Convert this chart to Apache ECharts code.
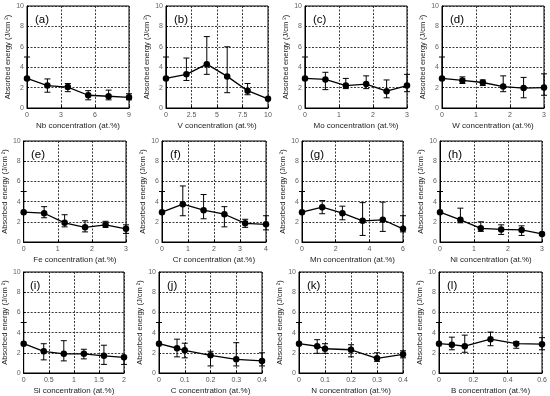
<!DOCTYPE html>
<html>
<head>
<meta charset="utf-8">
<script src="https://cdn.jsdelivr.net/npm/echarts@6/dist/echarts.min.js"></script>
<style>
html,body{margin:0;padding:0;background:#fff;}
#chart{width:550px;height:396px;}
</style>
</head>
<body>
<div id="chart"></div>
<script>
// ---- data (absorbed energy, J/cm^2) ----
const nbConc = [0, 1.8, 3.6, 5.4, 7.2, 9];
const nbEnergy = [2.9, 2.2, 2.05, 1.25, 1.15, 1.05];
const nbErrLo = [2.9, 1.55, 1.6, 0.8, 0.8, 0.8];
const nbErrHi = [5.0, 2.85, 2.4, 1.7, 1.75, 1.4];

const vConc = [0, 2, 4, 6, 8, 10];
const vEnergy = [2.9, 3.3, 4.3, 3.1, 1.7, 0.9];
const vErrLo = [2.9, 2.7, 3.3, 1.5, 1.3, 0.9];
const vErrHi = [5.0, 4.9, 7.0, 6.0, 2.4, 0.9];

const moConc = [0, 0.6, 1.2, 1.8, 2.4, 3.0];
const moEnergy = [2.9, 2.8, 2.2, 2.35, 1.65, 2.2];
const moErrLo = [2.9, 1.8, 1.9, 1.9, 1.0, 1.6];
const moErrHi = [5.0, 3.5, 2.9, 3.15, 2.75, 3.3];

const wConc = [0, 0.6, 1.2, 1.8, 2.4, 3.0];
const wEnergy = [2.9, 2.7, 2.5, 2.1, 1.95, 2.0];
const wErrLo = [2.9, 2.4, 2.2, 1.6, 1.0, 1.25];
const wErrHi = [5.0, 3.05, 2.75, 3.15, 3.0, 3.35];

const feConc = [0, 0.6, 1.2, 1.8, 2.4, 3.0];
const feEnergy = [2.95, 2.85, 1.9, 1.45, 1.7, 1.3];
const feErrLo = [2.95, 2.4, 1.5, 1.0, 1.45, 0.85];
const feErrHi = [5.0, 3.5, 2.7, 2.1, 2.05, 1.7];

const crConc = [0, 0.8, 1.6, 2.4, 3.2, 4.0];
const crEnergy = [2.95, 3.75, 3.15, 2.75, 1.85, 1.75];
const crErrLo = [2.95, 2.6, 2.3, 1.5, 1.45, 1.2];
const crErrHi = [5.0, 5.55, 4.7, 3.5, 2.25, 2.6];

const mnConc = [0, 1.2, 2.4, 3.6, 4.8, 6.0];
const mnEnergy = [2.95, 3.45, 2.85, 2.1, 2.2, 1.3];
const mnErrLo = [2.95, 2.8, 2.2, 0.65, 1.05, 1.0];
const mnErrHi = [5.0, 4.1, 3.55, 3.9, 3.95, 2.6];

const niConc = [0, 0.6, 1.2, 1.8, 2.4, 3.0];
const niEnergy = [2.95, 2.2, 1.35, 1.25, 1.2, 0.8];
const niErrLo = [2.95, 1.9, 1.05, 0.75, 0.65, 0.8];
const niErrHi = [5.0, 3.35, 2.0, 1.7, 1.6, 0.8];

const siConc = [0, 0.4, 0.8, 1.2, 1.6, 2.0];
const siEnergy = [2.9, 2.15, 1.9, 1.9, 1.7, 1.55];
const siErrLo = [2.9, 1.3, 1.2, 1.4, 0.85, 0.85];
const siErrHi = [5.0, 2.9, 3.2, 2.35, 2.75, 1.55];

const cConc = [0, 0.07, 0.1, 0.2, 0.3, 0.4];
const cEnergy = [2.9, 2.45, 2.25, 1.75, 1.35, 1.2];
const cErrLo = [2.9, 1.6, 1.5, 0.7, 0.7, 0.7];
const cErrHi = [5.0, 3.35, 2.95, 2.15, 3.0, 2.0];

const nConc = [0, 0.07, 0.1, 0.2, 0.3, 0.4];
const nEnergy = [2.9, 2.65, 2.4, 2.3, 1.45, 1.85];
const nErrLo = [2.9, 1.95, 1.95, 1.6, 1.15, 1.5];
const nErrHi = [5.0, 3.3, 2.9, 2.8, 2.0, 2.2];

const bConc = [0, 0.075, 0.15, 0.3, 0.45, 0.6];
const bEnergy = [2.9, 2.8, 2.65, 3.35, 2.9, 2.85];
const bErrLo = [2.9, 2.3, 2.05, 2.7, 2.45, 2.3];
const bErrHi = [5.0, 3.55, 3.75, 4.05, 3.1, 3.5];

// ---- panel descriptors ----
const panelLabels = ['(a)','(b)','(c)','(d)','(e)','(f)','(g)','(h)','(i)','(j)','(k)','(l)'];
const elementNames = ['Nb','V','Mo','W','Fe','Cr','Mn','Ni','Si','C','N','B'];
const xMaxTicks = [9, 10, 3, 3, 3, 4, 6, 3, 2, 0.4, 0.4, 0.6];
const xIntervals = [3, 2.5, 1, 1, 1, 1, 2, 1, 0.5, 0.1, 0.1, 0.2];
const yTicks = [0, 2, 4, 6, 8, 10];

const concs = [nbConc, vConc, moConc, wConc, feConc, crConc, mnConc, niConc, siConc, cConc, nConc, bConc];
const energies = [nbEnergy, vEnergy, moEnergy, wEnergy, feEnergy, crEnergy, mnEnergy, niEnergy, siEnergy, cEnergy, nEnergy, bEnergy];
const errLos = [nbErrLo, vErrLo, moErrLo, wErrLo, feErrLo, crErrLo, mnErrLo, niErrLo, siErrLo, cErrLo, nErrLo, bErrLo];
const errHis = [nbErrHi, vErrHi, moErrHi, wErrHi, feErrHi, crErrHi, mnErrHi, niErrHi, siErrHi, cErrHi, nErrHi, bErrHi];

// ---- layout (px) ----
const gridBoxes = [
  [27, 6, 102, 102], [166, 6, 102, 102], [305, 6, 102, 102], [442, 6, 102, 102],
  [23, 141, 103, 101], [162, 141, 104, 101], [302, 141, 101, 101], [440, 141, 102, 101],
  [22, 272, 102, 103], [159, 272, 103, 103], [299, 272, 104, 103], [439, 272, 103, 103]
];

const chart = echarts.init(document.getElementById('chart'), null, {renderer: 'canvas'});

const grids = [], xAxes = [], yAxes = [], series = [], titles = [];
const gridLine = {show: true, lineStyle: {color: '#222', width: 0.9, type: [2, 1.5]}};

function errRender(params, api) {
  const x = api.value(0), lo = api.value(1), hi = api.value(2), mid = api.value(3);
  if (hi - lo < 1e-6) return {type: 'group', children: []};
  const pLo = api.coord([x, lo]);
  const pHi = api.coord([x, hi]);
  const w = 3;
  const st = {stroke: '#000', lineWidth: 1};
  const children = [
    {type: 'line', shape: {x1: pLo[0], y1: pLo[1], x2: pHi[0], y2: pHi[1]}, style: st},
    {type: 'line', shape: {x1: pHi[0] - w, y1: pHi[1], x2: pHi[0] + w, y2: pHi[1]}, style: st}
  ];
  if (lo < mid - 1e-6) {
    children.push({type: 'line', shape: {x1: pLo[0] - w, y1: pLo[1], x2: pLo[0] + w, y2: pLo[1]}, style: st});
  }
  return {type: 'group', children: children};
}

for (let i = 0; i < 12; i++) {
  const b = gridBoxes[i];
  grids.push({left: b[0], top: b[1], width: b[2], height: b[3], show: true,
    borderColor: '#000', borderWidth: 1, backgroundColor: '#fff', containLabel: false});
  xAxes.push({
    type: 'value', gridIndex: i, min: 0, max: xMaxTicks[i], interval: xIntervals[i],
    name: elementNames[i] + ' concentration (at.%)', nameLocation: 'middle', nameGap: 14,
    nameTextStyle: {fontSize: 8, color: '#222', fontFamily: 'Liberation Sans'},
    axisLine: {show: true, lineStyle: {color: '#000', width: 1}},
    axisTick: {show: true, inside: true, length: 2, lineStyle: {color: '#000'}},
    axisLabel: {fontSize: 7, color: '#555', margin: 4, fontFamily: 'Liberation Sans',
      formatter: v => String(+v.toFixed(2))},
    splitLine: gridLine
  });
  yAxes.push({
    type: 'value', gridIndex: i, min: yTicks[0], max: yTicks[yTicks.length - 1], interval: yTicks[1] - yTicks[0],
    name: 'Absorbed energy (J/cm ²)', nameLocation: 'middle', nameGap: 12, nameRotate: 90,
    nameTextStyle: {fontSize: 7.5, color: '#222', fontFamily: 'Liberation Sans'},
    axisLine: {show: true, lineStyle: {color: '#000', width: 1}},
    axisTick: {show: true, inside: true, length: 2, lineStyle: {color: '#000'}},
    axisLabel: {fontSize: 7, color: '#666', margin: 3, fontFamily: 'Liberation Sans'},
    splitLine: gridLine
  });
  titles.push({text: panelLabels[i], left: b[0] + 3, top: b[1] + 3,
    textStyle: {fontSize: 11.5, fontWeight: 'normal', color: '#000', fontFamily: 'Liberation Sans'}});
  const lineData = concs[i].map((x, k) => [x, energies[i][k]]);
  const errData = concs[i].map((x, k) => [x, errLos[i][k], errHis[i][k], energies[i][k]]);
  series.push({
    type: 'custom', xAxisIndex: i, yAxisIndex: i, renderItem: errRender, clip: false,
    data: errData, encode: {x: 0, y: [1, 2]}, silent: true, z: 3
  });
  series.push({
    type: 'line', xAxisIndex: i, yAxisIndex: i, data: lineData,
    symbol: 'circle', symbolSize: 6.5, showSymbol: true, animation: false,
    itemStyle: {color: '#000'}, lineStyle: {color: '#000', width: 1.3}, z: 4
  });
}

chart.setOption({
  animation: false,
  backgroundColor: '#fff',
  title: titles,
  grid: grids,
  xAxis: xAxes,
  yAxis: yAxes,
  series: series
});
</script>
</body>
</html>
